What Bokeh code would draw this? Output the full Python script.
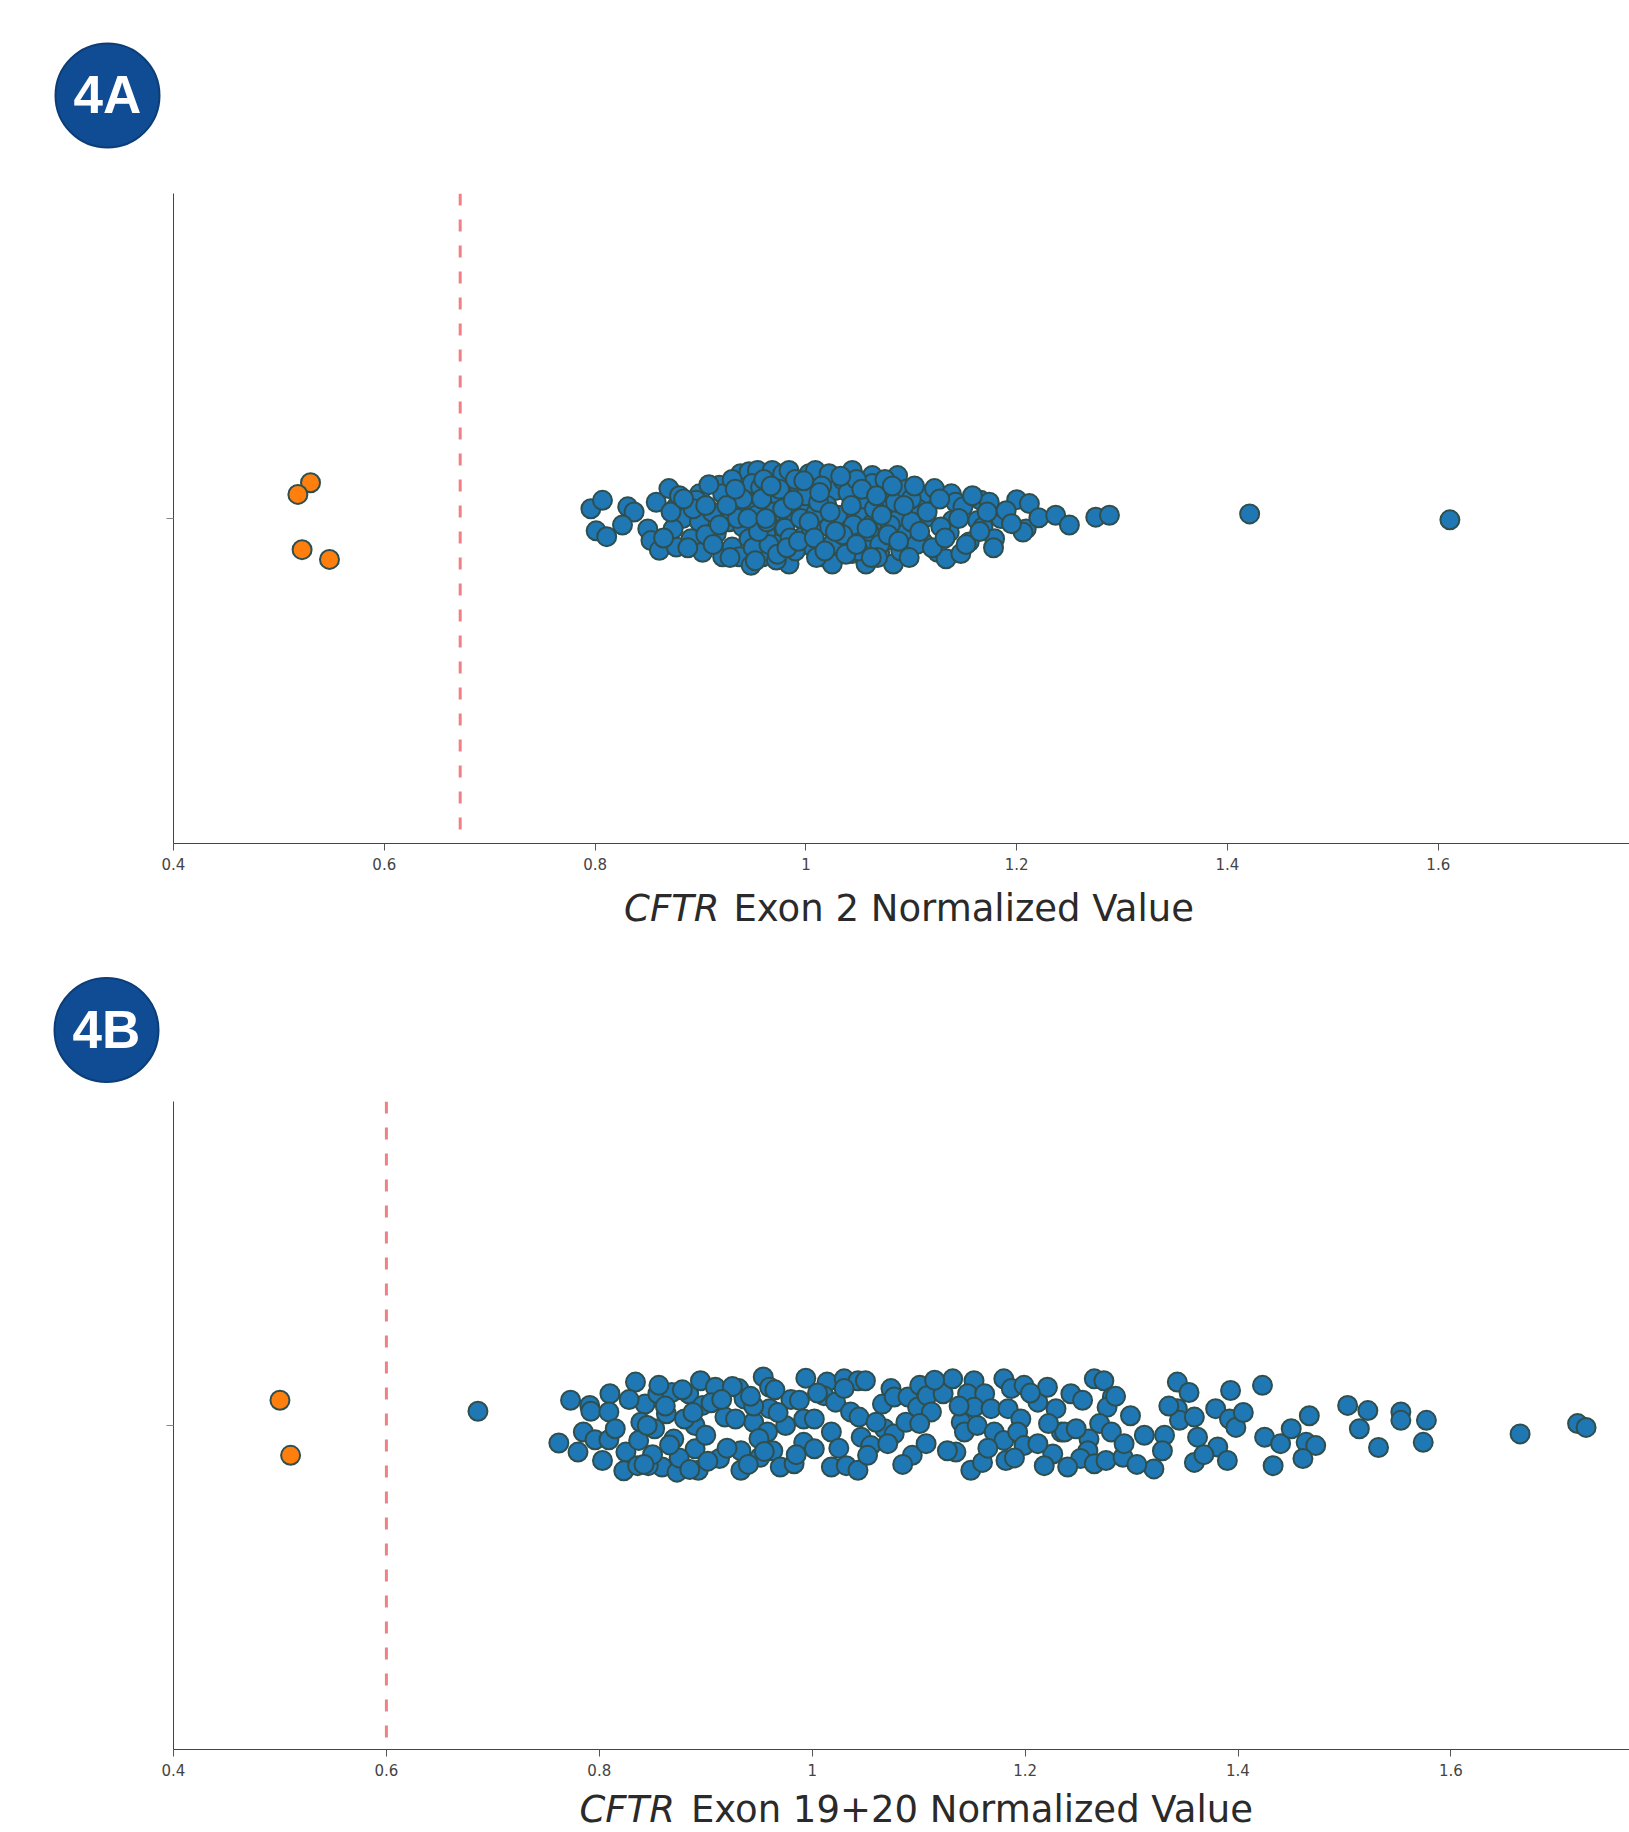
from bokeh.plotting import figure
from bokeh.models import Span, FixedTicker, NumeralTickFormatter, Range1d, CustomJSTickFormatter
from bokeh.layouts import column
from bokeh.embed import file_html
from bokeh.resources import INLINE
from bokeh.core.properties import value

# ---------------- data: panel 4A (CFTR Exon 2) ----------------
a_blue_x = [
    0.796, 0.807, 0.801, 0.811, 0.831, 0.837, 0.826, 0.858, 0.870, 0.850,
    0.853, 0.861, 0.877, 0.877, 0.883, 0.874, 0.899, 0.896, 0.899, 0.891,
    0.902, 0.918, 0.921, 0.911, 0.915, 0.921, 0.930, 0.927, 0.938, 0.946,
    0.954, 0.940, 0.949, 0.957, 0.943, 0.953, 0.940, 0.946, 0.937, 0.948,
    0.959, 0.962, 0.965, 0.968, 0.978, 0.984, 0.975, 0.984, 0.972, 0.984,
    0.975, 0.984, 0.972, 0.994, 1.003, 1.009, 1.000, 1.009, 0.997, 1.006,
    1.016, 1.022, 1.028, 1.035, 1.022, 1.032, 1.025, 1.038,
    1.044, 1.051, 1.063, 1.063, 1.087, 1.089, 1.044, 1.054, 1.073, 1.076,
    1.063, 1.047, 1.057, 1.044, 1.057, 1.070, 1.083, 1.076, 1.089, 1.095,
    1.092, 1.111, 1.111, 1.122, 1.106, 1.114, 1.125, 1.133, 1.139, 1.136,
    1.128, 1.138, 1.142, 1.149, 1.147, 1.155, 1.163, 1.168, 1.166, 1.174,
    1.179, 1.185, 1.200, 1.212, 1.209, 1.206, 1.221, 1.237, 1.250, 1.275,
    1.288,
    0.930, 0.935, 0.950, 0.960, 0.965, 0.970, 0.980, 0.990, 0.990, 0.995,
    1.000, 1.005, 1.010, 1.015, 1.020, 1.025, 1.030, 1.040, 1.045, 1.050,
    1.055, 1.060, 1.065, 1.070, 1.075, 1.080, 1.085, 1.090, 1.095, 1.100,
    1.100, 1.105, 0.940, 0.955, 0.975, 0.985, 1.012, 1.035, 1.048, 1.068,
    0.865, 0.872, 0.880, 0.888, 0.893, 0.905, 0.908, 0.912, 0.925, 0.928,
    0.933, 0.945, 0.952, 0.958, 0.963, 0.967, 0.973, 0.978, 0.982, 0.988,
    0.993, 0.998, 1.003, 1.008, 1.013, 1.018, 1.023, 1.028, 1.033, 1.038,
    1.043, 1.048, 1.053, 1.058, 1.062, 1.067, 1.072, 1.078, 1.082, 1.088,
    1.093, 1.098, 1.103, 1.108, 1.115, 1.120, 1.127, 1.132, 1.145, 1.152,
    1.158, 1.165, 1.172, 1.178, 1.190, 1.195, 0.884, 0.905, 0.918, 0.962,
    1.421, 1.611,
]
a_blue_jitter = [
    0.015, 0.028, -0.019, -0.028, 0.018, 0.010, -0.010, 0.025, 0.046, -0.016,
    -0.034, -0.049, -0.044, 0.018, 0.000, -0.016, 0.038, 0.028, -0.005, -0.031,
    -0.052, 0.051, 0.038, 0.010, -0.023, -0.059, -0.044, -0.005, 0.069, 0.072,
    0.074, 0.038, 0.054, 0.048, 0.015, 0.005, -0.013, -0.031, -0.059, -0.072,
    -0.059, -0.023, 0.023, 0.074, 0.069, 0.074, 0.033, 0.038, -0.003, 0.002,
    -0.039, -0.070, -0.064, 0.048, 0.069, 0.074, 0.018, 0.007, -0.028, -0.044,
    -0.059, 0.069, 0.043, 0.059, -0.013, -0.034, -0.070, 0.007,
    0.074, 0.054, 0.066, 0.054, 0.066, 0.043, 0.023, 0.007, 0.033, 0.013,
    -0.008, -0.023, -0.039, -0.054, -0.070, -0.054, -0.070, -0.034, 0.002, -0.023,
    -0.044, -0.036, 0.036, 0.046, 0.015, 0.002, -0.052, -0.062, -0.003, -0.021,
    -0.013, 0.038, 0.025, 0.018, -0.054, -0.036, -0.003, -0.013, 0.028, 0.025,
    -0.031, 0.000, 0.029, 0.023, -0.016, -0.021, 0.001, 0.005, -0.010, 0.002,
    0.005,
    0.060, 0.000, -0.045, 0.060, -0.040, 0.010, -0.015, 0.060, -0.050, 0.000,
    0.035, -0.015, -0.060, 0.050, 0.020, -0.040, 0.005, 0.040, -0.010, -0.050,
    0.030, -0.020, 0.015, -0.040, 0.060, -0.010, 0.025, -0.050, 0.045, -0.005,
    0.030, -0.040, 0.030, -0.020, 0.045, -0.030, 0.025, -0.025, 0.060, -0.060,
    -0.030, 0.010, 0.035, -0.045, 0.015, -0.025, 0.052, -0.040, 0.020, -0.060,
    0.045, 0.000, -0.065, 0.030, -0.005, 0.050, -0.055, 0.015, -0.045, 0.028,
    -0.035, 0.058, -0.005, -0.030, 0.040, -0.050, 0.010, -0.020, 0.065, -0.055,
    0.020, -0.040, 0.045, -0.015, -0.060, 0.035, 0.005, -0.025, 0.050, -0.035,
    0.020, -0.060, 0.050, -0.020, 0.010, -0.045, 0.030, -0.030, 0.000, -0.040,
    0.035, -0.020, 0.010, -0.045, 0.012, -0.008, 0.030, 0.020, -0.010, 0.000,
    0.007, -0.002,
]
a_orange_x = [0.530, 0.518, 0.522, 0.548]
a_orange_jitter = [0.055, 0.037, -0.048, -0.063]
a_threshold = 0.672

# ---------------- data: panel 4B (CFTR Exon 19+20) ----------------
b_blue_x = [
    0.773, 0.762, 0.791, 0.792, 0.810, 0.809, 0.785, 0.796, 0.780, 0.809,
    0.803, 0.834, 0.825, 0.823, 0.836, 0.843, 0.839, 0.837, 0.852, 0.855,
    0.868, 0.863, 0.870, 0.859, 0.873, 0.846, 0.884, 0.895, 0.897, 0.890,
    0.890, 0.893, 0.909, 0.918, 0.913, 0.931, 0.936, 0.933, 0.933, 0.945,
    0.954, 0.960, 0.960, 0.958, 0.951, 0.963, 0.970,
    0.845, 0.850, 0.862, 0.875, 0.880, 0.885, 0.900, 0.905, 0.920, 0.925,
    0.940, 0.945, 0.950, 0.965, 0.975, 0.980,
    0.994, 0.988, 0.992, 1.002, 0.992, 1.002, 0.983, 1.014, 1.030, 1.043,
    1.050, 1.011, 1.022, 1.030, 1.018, 1.036, 1.044, 1.018, 1.032, 1.043,
    1.046, 1.055, 1.052, 1.066, 1.074, 1.077, 1.068, 1.077, 1.071, 1.088,
    1.094, 1.107, 1.090, 1.101, 1.099, 1.108, 1.112, 1.101, 1.123, 1.132,
    1.135, 1.127, 1.140, 1.143, 1.149, 1.160, 1.152, 1.146, 1.162, 1.152,
    1.168, 1.155, 1.171, 1.180, 1.182, 1.180, 1.187, 1.199, 1.184, 1.196,
    1.193, 1.199, 1.212, 1.221, 1.229, 1.234, 1.226, 1.212, 1.218,
    1.265, 1.274, 1.243, 1.254, 1.282, 1.277, 1.237, 1.270, 1.281, 1.260,
    1.259, 1.252, 1.240, 1.265, 1.276, 1.292, 1.293, 1.299, 1.312, 1.331,
    1.329, 1.321, 1.343, 1.354, 1.343, 1.345, 1.359, 1.362, 1.359, 1.379,
    1.392, 1.398, 1.381, 1.390, 1.393, 1.423, 1.425, 1.440, 1.450, 1.467,
    1.464, 1.473, 1.461, 1.433,
    0.815, 0.828, 0.842, 0.856, 0.866, 0.878, 0.888, 0.902, 0.915, 0.928,
    0.942, 0.955, 0.968, 0.985, 1.005, 1.025, 1.060, 1.085, 1.115, 1.138,
    1.165, 1.190, 1.205, 1.222, 1.248, 1.285, 1.305, 1.335, 1.368, 1.405,
    1.503, 1.522, 1.514, 1.532, 1.553, 1.553, 1.577, 1.574, 1.665, 1.719,
    1.727, 0.686,
]
b_blue_jitter = [
    0.039, -0.027, 0.031, 0.022, 0.049, 0.021, -0.010, -0.022, -0.041, -0.022,
    -0.054, 0.067, -0.041, -0.070, -0.062, 0.033, 0.005, -0.023, -0.005, 0.049,
    0.051, 0.018, -0.021, -0.064, -0.072, -0.062, 0.049, 0.069, 0.031, 0.000,
    -0.036, -0.069, 0.059, 0.013, -0.051, 0.057, 0.041, -0.039, -0.069, 0.005,
    0.075, 0.059, 0.026, -0.010, -0.049, -0.039, -0.064,
    0.000, -0.045, 0.030, -0.050, 0.010, -0.068, -0.015, 0.035, -0.035, 0.060,
    -0.060, 0.030, -0.020, 0.055, 0.000, 0.040,
    0.073, 0.039, 0.010, 0.010, -0.026, -0.036, -0.059, 0.067, 0.072, 0.069,
    0.069, 0.046, 0.036, 0.057, -0.010, 0.021, 0.013, -0.064, -0.062, -0.069,
    -0.018, -0.031, -0.046, 0.033, 0.057, 0.044, -0.005, -0.013, -0.028, 0.005,
    -0.046, -0.028, 0.044, 0.062, 0.028, 0.046, 0.021, 0.003, 0.049, 0.072,
    -0.041, -0.039, 0.005, -0.010, -0.069, -0.057, 0.069, 0.049, 0.049, 0.028,
    0.026, 0.000, -0.010, -0.023, -0.054, 0.072, 0.057, 0.062, 0.026, 0.010,
    -0.010, -0.031, 0.036, 0.059, 0.026, -0.010, -0.044, -0.028, -0.062,
    0.072, 0.069, 0.049, 0.039, 0.044, 0.028, -0.010, 0.003, -0.010, -0.021,
    -0.039, -0.051, -0.064, -0.059, -0.054, -0.049, -0.028, 0.015, -0.015, -0.015,
    -0.039, -0.067, 0.067, 0.051, 0.026, 0.008, 0.013, -0.018, -0.057, 0.026,
    0.010, -0.003, -0.033, -0.054, 0.054, 0.062, -0.018, -0.028, -0.005, 0.015,
    -0.026, -0.031, -0.051, -0.062,
    -0.005, 0.040, -0.060, 0.062, -0.030, 0.055, 0.020, -0.055, 0.040, 0.010,
    0.045, -0.040, 0.020, -0.045, 0.050, -0.035, 0.005, -0.060, 0.070, 0.030,
    -0.035, -0.050, 0.050, 0.003, -0.005, 0.045, -0.060, 0.030, -0.045, 0.020,
    0.031, 0.023, -0.005, -0.034, 0.021, 0.008, 0.008, -0.026, -0.013, 0.003,
    -0.003, 0.022,
]
b_orange_x = [0.500, 0.510]
b_orange_jitter = [0.039, -0.046]
b_threshold = 0.6

x_ticks = [0.4, 0.6, 0.8, 1.0, 1.2, 1.4, 1.6]

# ---------------- layout / style constants ----------------
W = 1629
LEFT = 173
BLUE = "#1F77B4"
ORANGE = "#FF7F0E"
EDGE = "#2F4F4F"
BADGE_FILL = "#104C93"
BADGE_EDGE = "#0C3D76"
THR_COLOR = "#EF8085"
FONT = "DejaVu Sans"
TITLE_COLOR = "#2A2A2A"
TITLE_SIZE = "37px"


def bare_figure(h, x_range, left):
    p = figure(width=W, height=h, x_range=x_range, y_range=Range1d(0, h),
               output_backend="svg", toolbar_location=None,
               x_axis_type=None, y_axis_type=None,
               min_border_left=left, min_border_right=0,
               min_border_top=0, min_border_bottom=0)
    p.frame_align = False
    p.grid.visible = False
    p.outline_line_color = None
    return p


def badge(text, h, cx, cy):
    p = bare_figure(h, Range1d(0, W), 0)
    p.scatter([cx], [cy], size=104, fill_color=BADGE_FILL,
              line_color=BADGE_EDGE, line_width=2)
    p.text([cx], [cy + 1], text=[text], text_align="center",
           text_baseline="middle", text_font=value("Liberation Sans"),
           text_font_style="bold", text_font_size="53px", text_color="white")
    return p


def title_strip(x_range, h, y, split_x, rest, rest_offset):
    p = bare_figure(h, x_range, LEFT)
    p.text([split_x], [y], text=["CFTR"], text_align="right",
           text_baseline="middle", text_font=value(FONT),
           text_font_style="italic", text_font_size=TITLE_SIZE,
           text_color=TITLE_COLOR)
    p.text([split_x], [y], text=[rest], x_offset=rest_offset,
           text_align="left", text_baseline="middle", text_font=value(FONT),
           text_font_size=TITLE_SIZE, text_color=TITLE_COLOR)
    return p


def strip(x_range, bx, by, ox, oy, thr, h, top, bottom):
    p = figure(width=W, height=h, x_range=x_range,
               y_range=Range1d(-0.5, 0.5), output_backend="svg",
               toolbar_location=None, min_border_left=LEFT,
               min_border_right=0, min_border_top=top,
               min_border_bottom=bottom)
    p.frame_align = False
    p.grid.visible = False
    p.outline_line_color = None

    xa = p.xaxis[0]
    xa.ticker = FixedTicker(ticks=x_ticks)
    xa.formatter = NumeralTickFormatter(format="0.[0]")
    xa.axis_line_color = "#444444"
    xa.major_tick_line_color = "#555555"
    xa.major_tick_out = 7
    xa.major_tick_in = 0
    xa.minor_tick_line_color = None
    xa.major_label_text_font = FONT
    xa.major_label_text_font_size = "15px"
    xa.major_label_text_color = "#444444"
    xa.major_label_standoff = 7

    ya = p.yaxis[0]
    ya.ticker = FixedTicker(ticks=[0])
    ya.formatter = CustomJSTickFormatter(code="return '';")
    ya.axis_line_color = "#444444"
    ya.major_tick_line_color = "#888888"
    ya.major_tick_out = 7
    ya.major_tick_in = 0
    ya.minor_tick_line_color = None

    p.add_layout(Span(location=thr, dimension="height", line_color=THR_COLOR,
                      line_dash="12 14", line_width=3))

    p.scatter(bx, by, size=19, fill_color=BLUE, line_color=EDGE, line_width=2)
    p.scatter(ox, oy, size=19, fill_color=ORANGE, line_color=EDGE, line_width=2)
    return p


# panel A: 1054 px per unit, frame 173..1629
xr_a = Range1d(0.4, 0.4 + (W - LEFT) / 1054.0)
# panel B: 1064.5 px per unit
xr_b = Range1d(0.4, 0.4 + (W - LEFT) / 1064.5)

badge_a = badge("4A", 160, 107, 65)
plot_a = strip(xr_a, a_blue_x, a_blue_jitter, a_orange_x, a_orange_jitter,
               a_threshold, 719, 33, 36)
title_a = title_strip(xr_a, 71, 42, 0.918, "Exon 2 Normalized Value", 14)
badge_b = badge("4B", 140, 106, 60.5)
plot_b = strip(xr_b, b_blue_x, b_blue_jitter, b_orange_x, b_orange_jitter,
               b_threshold, 695, 11, 36)
title_b = title_strip(xr_b, 45, 21, 0.871, "Exon 19+20 Normalized Value", 16)

layout = column(badge_a, plot_a, title_a, badge_b, plot_b, title_b, spacing=0)
open("out.html", "w").write(file_html(layout, INLINE))
